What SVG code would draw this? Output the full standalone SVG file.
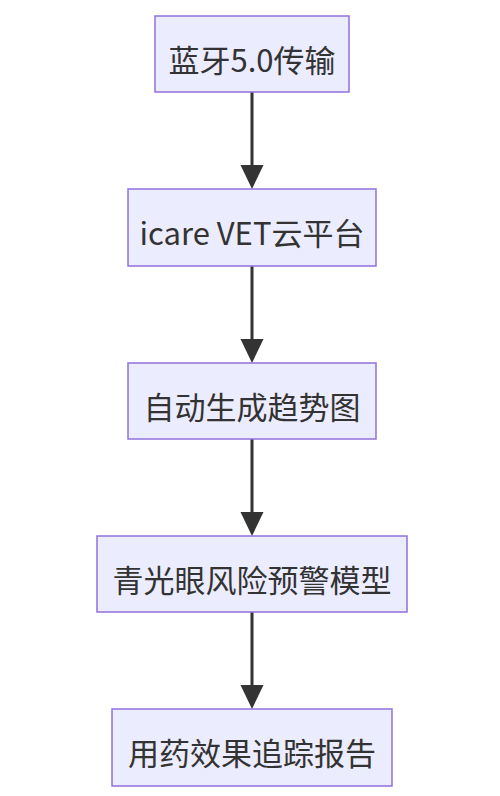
<svg xmlns="http://www.w3.org/2000/svg" width="500" height="796" viewBox="0 0 500 796">
<style>
.node rect{fill:#ECECFF;stroke:#9370DB;stroke-width:1.5}
.node text{font-family:"Noto Sans CJK SC","Noto Sans",sans-serif;font-size:31px;fill:#333;text-anchor:middle;dominant-baseline:central}
.edge{stroke:#333;stroke-width:3;fill:none}
.head{fill:#333}
</style>
<rect width="500" height="796" fill="#fff"/>
<g id="connectors">
<line class="edge" x1="252" y1="92" x2="252" y2="170"/>
<polygon class="head" points="240.5,165 263.5,165 252,189"/>
<line class="edge" x1="252" y1="266" x2="252" y2="344"/>
<polygon class="head" points="240.5,339 263.5,339 252,363"/>
<line class="edge" x1="252" y1="439" x2="252" y2="517"/>
<polygon class="head" points="240.5,512 263.5,512 252,536"/>
<line class="edge" x1="252" y1="612" x2="252" y2="690"/>
<polygon class="head" points="240.5,685 263.5,685 252,709"/>
</g>
<g id="n1" class="node"><rect x="155" y="16" width="194" height="76"/><text x="252" y="58">蓝牙5.0传输</text></g>
<g id="n2" class="node"><rect x="128" y="189" width="248" height="77"/><text x="252" y="231">icare VET云平台</text></g>
<g id="n3" class="node"><rect x="128" y="363" width="248" height="76"/><text x="252" y="405">自动生成趋势图</text></g>
<g id="n4" class="node"><rect x="97" y="536" width="310" height="76"/><text x="252" y="578">青光眼风险预警模型</text></g>
<g id="n5" class="node"><rect x="112" y="709" width="280" height="77"/><text x="252" y="751">用药效果追踪报告</text></g>
</svg>
